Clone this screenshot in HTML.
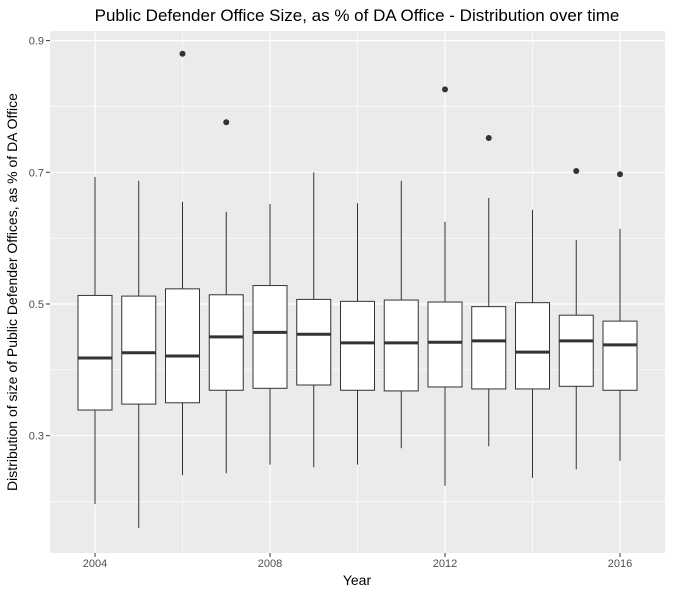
<!DOCTYPE html>
<html><head><meta charset="utf-8"><style>
body{margin:0;background:#fff;font-family:"Liberation Sans",sans-serif;}
svg text{font-family:"Liberation Sans",sans-serif;}
</style></head><body>
<svg id="chart" width="673" height="593">
<text x="357" y="21" text-anchor="middle" font-size="17" fill="#000">Public Defender Office Size, as % of DA Office - Distribution over time</text>
<rect x="50" y="31" width="615" height="522" fill="#ebebeb"/>
<g id="grid"></g><g id="boxes"></g><g id="axes"></g>
<text x="357" y="585" text-anchor="middle" font-size="14">Year</text>
<text transform="translate(17,292) rotate(-90)" text-anchor="middle" font-size="14">Distribution of size of Public Defender Offices, as % of DA Office</text>
</svg>
<script>
const years=[2004,2005,2006,2007,2008,2009,2010,2011,2012,2013,2014,2015,2016];
const whiskerHigh=[0.693,0.687,0.655,0.640,0.652,0.700,0.653,0.687,0.625,0.661,0.643,0.597,0.614];
const q3=[0.513,0.512,0.523,0.514,0.528,0.507,0.504,0.506,0.503,0.496,0.502,0.483,0.474];
const median=[0.418,0.426,0.421,0.450,0.457,0.454,0.441,0.441,0.442,0.444,0.427,0.444,0.438];
const q1=[0.339,0.348,0.350,0.369,0.372,0.377,0.369,0.368,0.374,0.371,0.371,0.375,0.369];
const whiskerLow=[0.196,0.160,0.240,0.243,0.256,0.252,0.256,0.281,0.224,0.284,0.236,0.249,0.262];
const outlierYears=[2006,2007,2012,2013,2015,2016];
const outlierValues=[0.880,0.776,0.826,0.752,0.702,0.697];
const yTicks=[0.3,0.5,0.7,0.9];
const yMinor=[0.2,0.4,0.6,0.8];
const xTicks=[2004,2008,2012,2016];
const xMinor=[2006,2010,2014];
const X=v=>95+(v-2004)*43.75;
const Y=v=>304-(v-0.5)*658.5;
const NS="http://www.w3.org/2000/svg";
function mk(p,t,a){const e=document.createElementNS(NS,t);for(const k in a)e.setAttribute(k,a[k]);p.appendChild(e);return e;}
const g=document.getElementById('grid'),b=document.getElementById('boxes'),ax=document.getElementById('axes');
yMinor.forEach(v=>{const l=mk(g,'line',{x1:50,x2:665,y1:Y(v),y2:Y(v),stroke:'#fff','stroke-width':0.6});

});
xMinor.forEach(v=>{const l=mk(g,'line',{x1:X(v),x2:X(v),y1:31,y2:553,stroke:'#fff','stroke-width':0.6});

});
yTicks.forEach(v=>{const l=mk(g,'line',{x1:50,x2:665,y1:Y(v),y2:Y(v),stroke:'#fff','stroke-width':1.2});


const t=mk(ax,'text',{x:44,y:Y(v)+4,'text-anchor':'end','font-size':11,fill:'#4d4d4d'});t.textContent=v.toFixed(1);


mk(ax,'line',{x1:46,x2:50,y1:Y(v),y2:Y(v),stroke:'#333'});});
xTicks.forEach(v=>{const l=mk(g,'line',{x1:X(v),x2:X(v),y1:31,y2:553,stroke:'#fff','stroke-width':1.2});


const t=mk(ax,'text',{x:X(v),y:567,'text-anchor':'middle','font-size':11,fill:'#4d4d4d'});t.textContent=v;


mk(ax,'line',{x1:X(v),x2:X(v),y1:553,y2:557,stroke:'#333'});});
years.forEach((yr,i)=>{const x=X(yr),w=17;
const grp=mk(b,'g',{});


mk(grp,'line',{x1:x,x2:x,y1:Y(whiskerHigh[i]),y2:Y(q3[i]),stroke:'#333'});
mk(grp,'line',{x1:x,x2:x,y1:Y(q1[i]),y2:Y(whiskerLow[i]),stroke:'#333'});
mk(grp,'rect',{x:x-w,y:Y(q3[i]),width:2*w,height:Y(q1[i])-Y(q3[i]),fill:'#fff',stroke:'#333'});
mk(grp,'line',{x1:x-w,x2:x+w,y1:Y(median[i]),y2:Y(median[i]),stroke:'#333','stroke-width':3});});
outlierYears.forEach((yr,i)=>{const c=mk(b,'circle',{cx:X(yr),cy:Y(outlierValues[i]),r:3,fill:'#333'});

});
</script>
</body></html>
